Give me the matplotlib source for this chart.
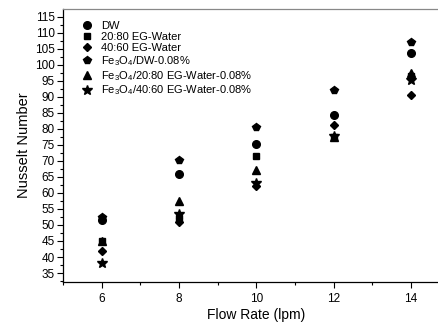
import matplotlib
matplotlib.use("Agg")
import matplotlib.pyplot as plt
from matplotlib.ticker import MultipleLocator

plt.rcParams['font.family'] = ['Liberation Sans', 'DejaVu Sans']
plt.rcParams['mathtext.default'] = 'regular'

flow = [6, 8, 10, 12, 14]
dw = [51.5, 65.8, 75.2, 84.3, 103.6]
eg2080 = [44.9, 52.3, 71.5, 77.5, 96.5]
eg4060 = [41.9, 51.0, 62.3, 81.2, 90.6]
fe_dw = [52.4, 70.3, 80.6, 92.1, 107.0]
fe_2080 = [45.0, 57.6, 67.1, 77.5, 97.3]
fe_4060 = [38.0, 53.5, 63.0, 77.8, 95.3]

series = [
    (dw, 'o', 'DW'),
    (eg2080, 's', '20:80 EG-Water'),
    (eg4060, 'D', '40:60 EG-Water'),
    (fe_dw, 'p', 'Fe$_3$O$_4$/DW-0.08%'),
    (fe_2080, '^', 'Fe$_3$O$_4$/20:80 EG-Water-0.08%'),
    (fe_4060, '*', 'Fe$_3$O$_4$/40:60 EG-Water-0.08%'),
]
sizes = {'o': 5.5, 's': 5.0, 'D': 4.4, 'p': 6.0, '^': 5.8, '*': 7.2}

fig = plt.figure(figsize=(4.39, 3.23), dpi=100)
ax = fig.add_axes([63/439, 41/323, 386.5/439, 273/323])

for vals, m, lab in series:
    ax.plot(flow, vals, linestyle='none', marker=m, color='black',
            markersize=sizes[m], label=lab)

ax.set_xlim(5, 15)
ax.set_ylim(32.2, 117.4)
ax.xaxis.set_major_locator(MultipleLocator(2))
ax.xaxis.set_minor_locator(MultipleLocator(1))
ax.yaxis.set_minor_locator(MultipleLocator(2.5))
ax.set_yticks(range(35, 116, 5))
ax.tick_params(which='major', direction='out', length=4, width=0.8, labelsize=8.5, pad=2)
ax.tick_params(which='minor', direction='out', length=2, width=0.8)
ax.tick_params(axis='x', pad=4)

for s in ['left', 'bottom']:
    ax.spines[s].set_linewidth(0.9)
ax.spines['top'].set_color('#888888')
ax.spines['top'].set_linewidth(0.9)
ax.spines['right'].set_visible(False)

ax.set_xlabel('Flow Rate (lpm)', fontsize=10, labelpad=2)
ax.set_ylabel('Nusselt Number', fontsize=10.5, labelpad=3)

ax.legend(loc='upper left', bbox_to_anchor=(0.03, 0.971), frameon=False,
          fontsize=8, handletextpad=0.6, labelspacing=0.08, borderaxespad=0,
          handlelength=1.4)

fig.savefig('out.png', dpi=100)
